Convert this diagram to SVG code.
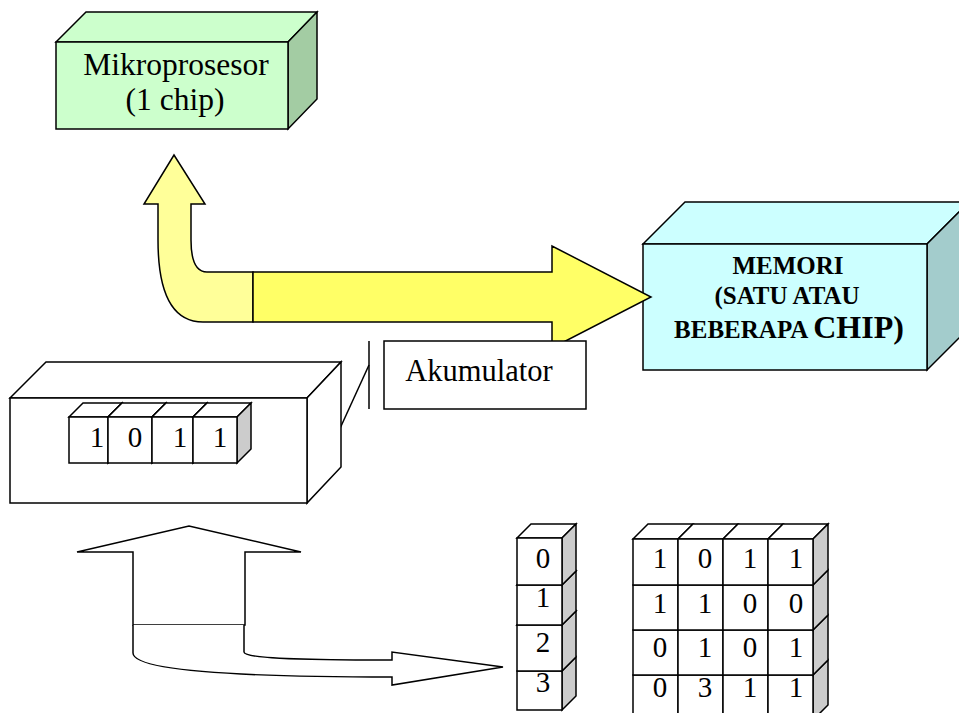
<svg xmlns="http://www.w3.org/2000/svg" width="959" height="713" viewBox="0 0 959 713">
<style>
.s{stroke:#000;stroke-width:1.5;stroke-linejoin:miter}
.w{fill:#fff}
.g{fill:#cccccc}
.t{font-family:"Liberation Serif","Times New Roman",serif;fill:#000}
.d{font-family:"Liberation Serif","Times New Roman",serif;font-size:29px;text-anchor:middle;fill:#000}
.b{font-family:"Liberation Serif","Times New Roman",serif;font-weight:bold;text-anchor:middle;fill:#000}
</style>
<rect width="959" height="713" fill="#fff"/>

<g id="mikroprosesor">
<polygon class="s" fill="#ccffcc" points="56,42 86,12 317,12 288,42"/>
<polygon class="s" fill="#a3cca3" points="288,42 317,12 317,99 288,129"/>
<rect class="s" fill="#ccffcc" x="56" y="42" width="232" height="87"/>
<text class="t" font-size="31.5" x="176" y="75" text-anchor="middle">Mikroprosesor</text>
<text class="t" font-size="31.5" x="175" y="110" text-anchor="middle">(1 chip)</text>
</g>

<g id="memori">
<polygon class="s" fill="#ccffff" points="643,244 685,202 969,202 927,244"/>
<polygon class="s" fill="#a3cccc" points="927,244 969,202 969,328 927,370"/>
<rect class="s" fill="#ccffff" x="643" y="244" width="284" height="126"/>
<text class="b" font-size="25" x="788" y="274">MEMORI</text>
<text class="b" font-size="25" x="787" y="304">(SATU ATAU</text>
<text class="b" x="789" y="338"><tspan font-size="25">BEBERAPA </tspan><tspan font-size="32">CHIP)</tspan></text>
</g>

<g id="connectors">
<path class="s" fill="#ffff99" d="M253,272 L207,272 C196,272 191,262 191,240 L191,204 L205,204 L174,155 L144,204 L158,204 L158,240 C158,292 172,322 203,322 L253,322 Z"/>
<path class="s" fill="#ffff66" d="M253,272 L552,272 L552,246 L651,297 L552,348 L552,322 L253,322 Z"/>
<line class="s" x1="369" y1="341" x2="369" y2="409"/>
<line class="s" x1="369" y1="365" x2="337" y2="435"/>
<path class="s" fill="#fff" d="M133,625 L133,552 L77,552 L189,526 L301,552 L245,552 L245,625 Z"/>
<path class="s" fill="#fff" d="M133,625 L133,653 C133,670 230,677 392,677 L392,685 L503,667 L392,652 L392,660 C290,660 244,658 244,652 L244,625"/>
</g>

<g id="akumulator">
<rect class="s" fill="#fff" x="384" y="341" width="202" height="68"/>
<text class="t" font-size="30.5" x="479" y="381" text-anchor="middle">Akumulator</text>
</g>

<g id="register">
<polygon class="s w" points="10,398 46,362 341,362 307,398"/>
<polygon class="s w" points="307,398 341,362 341,467 307,503"/>
<rect class="s w" x="10" y="398" width="297" height="105"/>
<g>
<polygon class="s w" points="69,417 83,403 122,403 108,417"/><polygon class="s g" points="108,417 122,403 122,449 108,463"/><rect class="s w" x="69" y="417" width="39" height="46"/>
<polygon class="s w" points="108,417 122,403 166,403 152,417"/><polygon class="s g" points="152,417 166,403 166,449 152,463"/><rect class="s w" x="108" y="417" width="44" height="46"/>
<polygon class="s w" points="152,417 166,403 207,403 193,417"/><polygon class="s g" points="193,417 207,403 207,449 193,463"/><rect class="s w" x="152" y="417" width="41" height="46"/>
<polygon class="s w" points="193,417 207,403 251,403 237,417"/><polygon class="s g" points="237,417 251,403 251,449 237,463"/><rect class="s w" x="193" y="417" width="44" height="46"/>
</g>
<text class="d" x="97" y="447">1</text>
<text class="d" x="135" y="447">0</text>
<text class="d" x="180" y="447">1</text>
<text class="d" x="220" y="447">1</text>
</g>

<g id="address-column">
<polygon class="s g" points="562,671 576,657 576,696 562,710"/><rect class="s w" x="517" y="671" width="45" height="39"/>
<polygon class="s w" points="517,625 531,611 576,611 562,625"/><polygon class="s g" points="562,625 576,611 576,657 562,671"/><rect class="s w" x="517" y="625" width="45" height="46"/>
<polygon class="s w" points="517,585 531,571 576,571 562,585"/><polygon class="s g" points="562,585 576,571 576,611 562,625"/><rect class="s w" x="517" y="585" width="45" height="40"/>
<polygon class="s w" points="517,538 531,524 576,524 562,538"/><polygon class="s g" points="562,538 576,524 576,571 562,585"/><rect class="s w" x="517" y="538" width="45" height="47"/>
<text class="d" x="543" y="568">0</text>
<text class="d" x="543" y="607">1</text>
<text class="d" x="543" y="652">2</text>
<text class="d" x="543" y="692">3</text>
</g>

<g id="memory-grid">
<polygon class="s g" points="813,675 828,660 828,705 813,720"/>
<rect class="s w" x="633" y="675" width="45" height="45"/><rect class="s w" x="678" y="675" width="45" height="45"/><rect class="s w" x="723" y="675" width="45" height="45"/><rect class="s w" x="768" y="675" width="45" height="45"/>
<polygon class="s g" points="813,630 828,615 828,660 813,675"/>
<rect class="s w" x="633" y="630" width="45" height="45"/><rect class="s w" x="678" y="630" width="45" height="45"/><rect class="s w" x="723" y="630" width="45" height="45"/><rect class="s w" x="768" y="630" width="45" height="45"/>
<polygon class="s g" points="813,585 828,570 828,615 813,630"/>
<rect class="s w" x="633" y="585" width="45" height="45"/><rect class="s w" x="678" y="585" width="45" height="45"/><rect class="s w" x="723" y="585" width="45" height="45"/><rect class="s w" x="768" y="585" width="45" height="45"/>
<polygon class="s w" points="633,539 648,524 693,524 678,539"/>
<polygon class="s w" points="678,539 693,524 738,524 723,539"/>
<polygon class="s w" points="723,539 738,524 783,524 768,539"/>
<polygon class="s w" points="768,539 783,524 828,524 813,539"/>
<polygon class="s g" points="813,539 828,524 828,570 813,585"/>
<rect class="s w" x="633" y="539" width="45" height="46"/><rect class="s w" x="678" y="539" width="45" height="46"/><rect class="s w" x="723" y="539" width="45" height="46"/><rect class="s w" x="768" y="539" width="45" height="46"/>
<g class="d">
<text x="660" y="568">1</text><text x="705" y="568">0</text><text x="750" y="568">1</text><text x="796" y="568">1</text>
<text x="660" y="613">1</text><text x="705" y="613">1</text><text x="750" y="613">0</text><text x="796" y="613">0</text>
<text x="660" y="657">0</text><text x="705" y="657">1</text><text x="750" y="657">0</text><text x="796" y="657">1</text>
<text x="660" y="697">0</text><text x="705" y="697">3</text><text x="750" y="697">1</text><text x="796" y="697">1</text>
</g>
</g>
</svg>
